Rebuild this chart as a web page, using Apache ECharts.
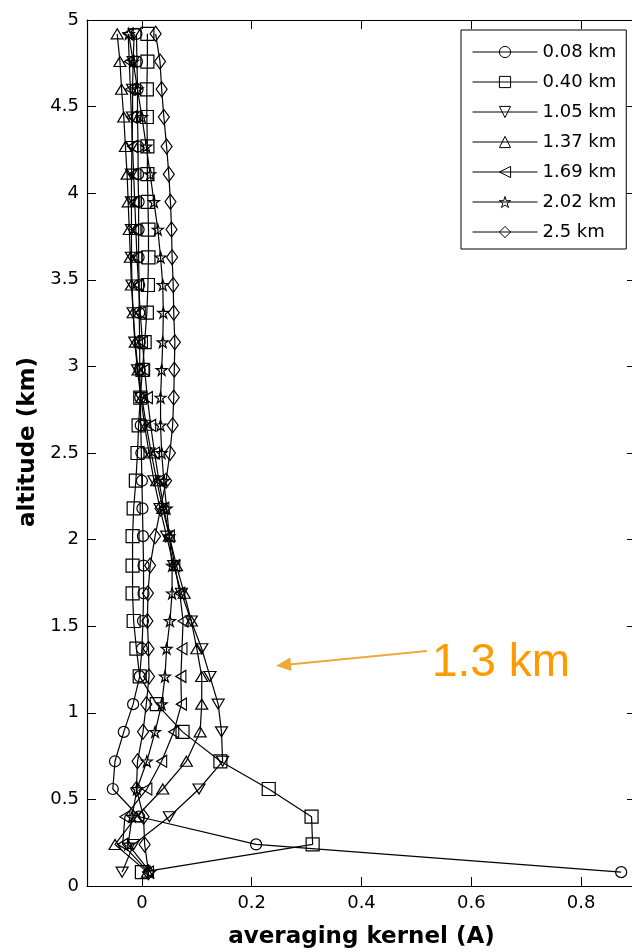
<!DOCTYPE html>
<html>
<head>
<meta charset="utf-8">
<script src="https://cdn.jsdelivr.net/npm/echarts@6/dist/echarts.min.js"></script>
<style>
  html, body { margin: 0; padding: 0; background: #fff; }
  #chart { width: 632px; height: 952px; }
</style>
</head>
<body>
<div id="chart"></div>
<script>
// Retrieval altitude grid (km)
const altitudes = [0.08, 0.24, 0.40, 0.56, 0.72, 0.89, 1.05, 1.21, 1.37, 1.53, 1.69, 1.85,
  2.02, 2.18, 2.34, 2.50, 2.66, 2.82, 2.98, 3.14, 3.31, 3.47, 3.63, 3.79, 3.95, 4.11, 4.27,
  4.44, 4.60, 4.76, 4.92];

// Averaging kernel rows, one per nominal altitude
const kernel008 = [0.873, 0.208, -0.005, -0.053, -0.049, -0.033, -0.016, -0.004, 0.000, 0.002,
  0.003, 0.003, 0.002, 0.001, 0.000, -0.001, -0.002, -0.003, -0.004, -0.004, -0.005, -0.005,
  -0.006, -0.006, -0.006, -0.007, -0.007, -0.008, -0.008, -0.009, -0.010];
const kernel040 = [0.000, 0.311, 0.309, 0.231, 0.143, 0.074, 0.027, -0.004, -0.010, -0.015,
  -0.017, -0.017, -0.017, -0.015, -0.011, -0.008, -0.006, -0.003, 0.001, 0.005, 0.009, 0.011,
  0.012, 0.012, 0.011, 0.010, 0.010, 0.009, 0.009, 0.010, 0.010];
const kernel105 = [-0.036, -0.015, 0.050, 0.104, 0.147, 0.145, 0.139, 0.124, 0.109, 0.090,
  0.072, 0.058, 0.045, 0.033, 0.022, 0.013, 0.005, -0.002, -0.008, -0.013, -0.016, -0.018,
  -0.019, -0.019, -0.019, -0.019, -0.018, -0.017, -0.017, -0.016, -0.014];
const kernel137 = [0.010, -0.049, -0.010, 0.038, 0.081, 0.106, 0.109, 0.109, 0.100, 0.090,
  0.077, 0.063, 0.050, 0.038, 0.027, 0.017, 0.008, 0.000, -0.007, -0.012, -0.016, -0.019,
  -0.021, -0.023, -0.025, -0.027, -0.030, -0.033, -0.037, -0.040, -0.045];
const kernel169 = [0.012, -0.035, -0.031, 0.009, 0.036, 0.058, 0.072, 0.071, 0.073, 0.075,
  0.069, 0.060, 0.050, 0.040, 0.031, 0.023, 0.016, 0.010, 0.005, 0.001, -0.003, -0.006,
  -0.009, -0.011, -0.013, -0.015, -0.017, -0.019, -0.021, -0.023, -0.025];
const kernel202 = [0.015, -0.025, -0.018, -0.009, 0.009, 0.024, 0.036, 0.042, 0.045, 0.051,
  0.055, 0.055, 0.050, 0.045, 0.040, 0.036, 0.034, 0.034, 0.036, 0.038, 0.039, 0.038, 0.034,
  0.029, 0.022, 0.015, 0.008, 0.000, -0.008, -0.016, -0.024];
const kernel250 = [0.012, 0.005, 0.003, -0.010, -0.008, 0.002, 0.008, 0.013, 0.012, 0.010,
  0.011, 0.015, 0.024, 0.034, 0.044, 0.051, 0.056, 0.058, 0.059, 0.060, 0.058, 0.057, 0.055,
  0.054, 0.052, 0.049, 0.045, 0.040, 0.036, 0.033, 0.025];

const legendNames = ['0.08 km', '0.40 km', '1.05 km', '1.37 km', '1.69 km', '2.02 km', '2.5 km'];
const xTickValues = [0, 0.2, 0.4, 0.6, 0.8];
const yTickValues = [0, 0.5, 1, 1.5, 2, 2.5, 3, 3.5, 4, 4.5, 5];

// Outline pentagram marker
const starPath = 'path://M50,0L61.2,34.5L97.6,34.5L68.2,55.9L79.4,90.5L50,69.1L20.6,90.5L31.8,55.9L2.4,34.5L38.8,34.5Z';

const markerDefs = [
  { values: kernel008, symbol: 'circle', size: 11, rotate: 0 },
  { values: kernel040, symbol: 'rect', size: 13, rotate: 0 },
  { values: kernel105, symbol: 'triangle', size: [12, 10], rotate: 180 },
  { values: kernel137, symbol: 'triangle', size: [12, 10], rotate: 0 },
  { values: kernel169, symbol: 'triangle', size: [12, 10], rotate: 90 },
  { values: kernel202, symbol: starPath, size: 11, rotate: 0 },
  { values: kernel250, symbol: 'diamond', size: [11, 15], rotate: 0 }
];

const series = markerDefs.map((d, k) => ({
  type: 'line',
  name: legendNames[k],
  xAxisIndex: 0,
  yAxisIndex: 0,
  data: altitudes.map((a, i) => [d.values[i], a]),
  symbol: d.symbol,
  symbolSize: d.size,
  symbolRotate: d.rotate,
  showSymbol: true,
  showAllSymbol: true,
  clip: false,
  silent: true,
  lineStyle: { color: '#000', width: 1.2 },
  itemStyle: { color: 'rgba(0,0,0,0)', borderColor: '#000', borderWidth: 1.2 },
  emphasis: { disabled: true }
}));

const labelFont = { fontFamily: 'DejaVu Sans', fontSize: 18, color: '#000' };
const frameLine = { show: true, onZero: false, lineStyle: { color: '#000', width: 1.2 } };

const chart = echarts.init(document.getElementById('chart'), null, { renderer: 'canvas' });
chart.setOption({
  animation: false,
  backgroundColor: '#fff',
  grid: { left: 87, top: 20, right: -4, bottom: 66, containLabel: false, outerBoundsMode: 'none' },
  xAxis: [
    {
      type: 'value', position: 'bottom', min: -0.1, max: 0.9,
      name: 'averaging kernel (A)', nameLocation: 'middle', nameGap: 40,
      nameTextStyle: { fontFamily: 'DejaVu Sans', fontSize: 23, fontWeight: 'bold', color: '#000' },
      axisLine: frameLine,
      axisTick: { show: true, inside: true, length: 9, customValues: xTickValues, lineStyle: { color: '#000' } },
      axisLabel: Object.assign({ show: true, margin: 8, customValues: xTickValues, formatter: v => String(v) }, labelFont),
      splitLine: { show: false }
    },
    {
      type: 'value', position: 'top', min: -0.1, max: 0.9,
      axisLine: frameLine,
      axisTick: { show: true, inside: true, length: 9, customValues: xTickValues, lineStyle: { color: '#000' } },
      axisLabel: { show: false },
      splitLine: { show: false }
    }
  ],
  yAxis: [
    {
      type: 'value', position: 'left', min: 0, max: 5, interval: 0.5,
      name: 'altitude (km)', nameLocation: 'middle', nameGap: 45,
      nameTextStyle: { fontFamily: 'DejaVu Sans', fontSize: 23, fontWeight: 'bold', color: '#000', padding: [0, 0, 0, 22] },
      axisLine: frameLine,
      axisTick: { show: true, inside: true, length: 9, customValues: yTickValues, lineStyle: { color: '#000' } },
      axisLabel: Object.assign({ show: true, margin: 8, customValues: yTickValues, formatter: v => String(v) }, labelFont),
      splitLine: { show: false }
    },
    {
      type: 'value', position: 'right', min: 0, max: 5, interval: 0.5,
      axisLine: frameLine,
      axisTick: { show: true, inside: true, length: 9, customValues: yTickValues, lineStyle: { color: '#000' } },
      axisLabel: { show: false },
      splitLine: { show: false }
    }
  ],
  legend: {
    data: legendNames,
    orient: 'vertical',
    left: 461,
    top: 30,
    itemWidth: 65,
    itemHeight: 14,
    itemGap: 12,
    padding: [13, 10, 8, 11],
    borderColor: '#000',
    borderWidth: 1,
    borderRadius: 0,
    backgroundColor: '#fff',
    selectedMode: false,
    itemStyle: { color: 'rgba(0,0,0,0)', borderColor: '#000', borderWidth: 1 },
    lineStyle: { color: '#000', width: 1 },
    textStyle: { fontFamily: 'DejaVu Sans', fontSize: 18, color: '#000' }
  },
  series: series,
  graphic: [
    {
      type: 'line', silent: true, z: 100,
      shape: { x1: 427, y1: 651, x2: 289, y2: 664.4 },
      style: { stroke: '#EEA83C', lineWidth: 2 }
    },
    {
      type: 'polygon', silent: true, z: 100,
      shape: { points: [[276, 665.7], [291.5, 671], [290.3, 657.6]] },
      style: { fill: '#EEA83C' }
    },
    {
      type: 'text', silent: true, z: 100,
      x: 432, y: 663,
      style: {
        text: '1.3 km', fill: '#FF9A00',
        font: '46px "Liberation Sans", Arial, sans-serif',
        textVerticalAlign: 'middle', verticalAlign: 'middle'
      }
    }
  ]
});
</script>
</body>
</html>
